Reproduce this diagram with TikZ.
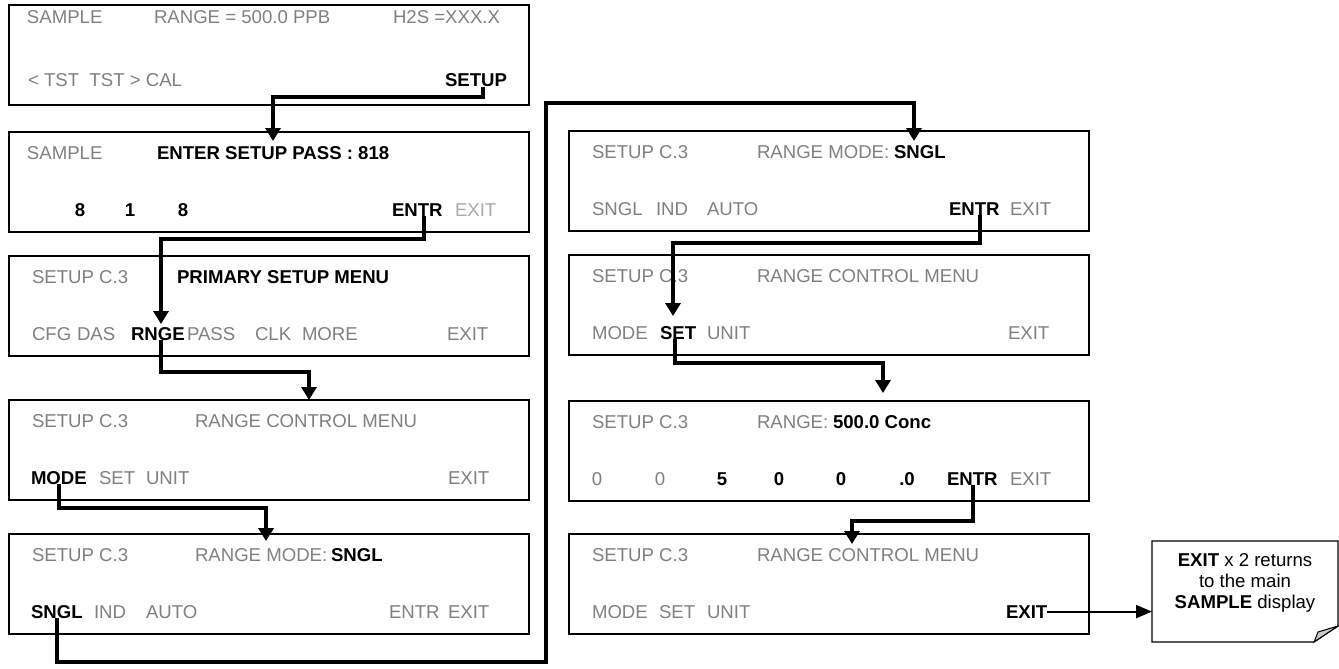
\documentclass[tikz,border=0pt]{standalone}
\usepackage{fontspec}
\setmainfont{Liberation Sans}
\usetikzlibrary{arrows.meta,calc}
\definecolor{tg}{HTML}{808080}
\definecolor{tl}{HTML}{ABABAB}
\definecolor{foldc}{HTML}{C8C8C8}
\newcommand\fsz{\fontsize{18.6}{21}\selectfont}
\begin{document}
\begin{tikzpicture}[x=1pt,y=-1pt,
  box/.style={draw, line width=1.3pt, minimum width=520pt, minimum height=100pt, anchor=north west, inner sep=0pt, outer sep=0pt},
  t/.style={anchor=base west, inner sep=0pt, outer sep=0pt, font=\fsz, text=tg},
  tlt/.style={t, text=tl},
  b/.style={t, text=black, font=\fsz\bfseries},
  tc/.style={anchor=base, inner sep=0pt, font=\fsz, text=tg},
  bc/.style={anchor=base, inner sep=0pt, font=\fsz\bfseries, text=black},
  conn/.style={line width=3.6pt, -{Triangle[length=13pt,width=15pt]}},
  conn2/.style={line width=2.2pt, -{Triangle[length=16pt,width=13pt]}},
]
\useasboundingbox (0,0) rectangle (1339,669);

% boxes
\node[box] (L1) at (9,5) {};
\node[box] (L2) at (9,132) {};
\node[box] (L3) at (9,256) {};
\node[box] (L4) at (9,400) {};
\node[box] (L5) at (9,534) {};
\node[box] (R1) at (569,131) {};
\node[box] (R2) at (569,255) {};
\node[box] (R3) at (569,401) {};
\node[box] (R4) at (569,534) {};

% L1
\node[t] (l1a) at (27,24) {SAMPLE};
\node[t] (l1b) at (154,24) {RANGE = 500.0 PPB};
\node[t] (l1c) at (393,24) {H2S =XXX.X};
\node[t] (l1d) at (28,87) {< TST\ \ TST > CAL};
\node[b] (l1setup) at (445,87) {SETUP};

% L2
\node[t] (l2a) at (27,159) {SAMPLE};
\node[b] (l2b) at (157,159) {ENTER SETUP PASS : 818};
\node[bc] (l2c) at (80,216) {8};
\node[bc] (l2d) at (130,216) {1};
\node[bc] (l2e) at (183,216) {8};
\node[b] (l2entr) at (392,216) {ENTR};
\node[tlt] (l2exit) at (455,216) {EXIT};

% L3
\node[t] (l3a) at (32,283) {SETUP C.3};
\node[b] (l3b) at (177,283) {PRIMARY SETUP MENU};
\node[t] (l3c) at (32,340) {CFG};
\node[t] (l3d) at (77,340) {DAS};
\node[b] (l3rnge) at (131,340) {RNGE};
\node[t] (l3e) at (187,340) {PASS};
\node[t] (l3f) at (255,340) {CLK};
\node[t] (l3g) at (302,340) {MORE};
\node[t] (l3h) at (447,340) {EXIT};

% L4
\node[t] (l4a) at (32,427) {SETUP C.3};
\node[t] (l4b) at (195,427) {RANGE CONTROL MENU};
\node[b] (l4mode) at (31,484) {MODE};
\node[t] (l4c) at (99,484) {SET};
\node[t] (l4d) at (146,484) {UNIT};
\node[t] (l4e) at (448,484) {EXIT};

% L5
\node[t] (l5a) at (32,561) {SETUP C.3};
\node[t] (l5b) at (195,561) {RANGE MODE:};
\node[b] (l5c) at (331,561) {SNGL};
\node[b] (l5sngl) at (31,618) {SNGL};
\node[t] (l5d) at (94,618) {IND};
\node[t] (l5e) at (146,618) {AUTO};
\node[t] (l5f) at (389,618) {ENTR};
\node[t] (l5g) at (448,618) {EXIT};

% R1
\node[t] (r1a) at (592,158) {SETUP C.3};
\node[t] (r1b) at (757,158) {RANGE MODE:};
\node[b] (r1c) at (894,158) {SNGL};
\node[t] (r1d) at (592,215) {SNGL};
\node[t] (r1e) at (656,215) {IND};
\node[t] (r1f) at (707,215) {AUTO};
\node[b] (r1entr) at (949,215) {ENTR};
\node[t] (r1g) at (1010,215) {EXIT};

% R2
\node[t] (r2a) at (592,282) {SETUP C.3};
\node[t] (r2b) at (757,282) {RANGE CONTROL MENU};
\node[t] (r2c) at (592,339) {MODE};
\node[b] (r2set) at (660,339) {SET};
\node[t] (r2d) at (707,339) {UNIT};
\node[t] (r2e) at (1008,339) {EXIT};

% R3
\node[t] (r3a) at (592,428) {SETUP C.3};
\node[t] (r3b) at (757,428) {RANGE:};
\node[b] (r3c) at (833,428) {500.0 Conc};
\node[tc] (r3d) at (597,485) {0};
\node[tc] (r3e) at (660,485) {0};
\node[bc] (r3f) at (722,485) {5};
\node[bc] (r3g) at (779,485) {0};
\node[bc] (r3h) at (841,485) {0};
\node[bc] (r3i) at (907,485) {.0};
\node[b] (r3entr) at (947,485) {ENTR};
\node[t] (r3j) at (1010,485) {EXIT};

% R4
\node[t] (r4a) at (592,561) {SETUP C.3};
\node[t] (r4b) at (757,561) {RANGE CONTROL MENU};
\node[t] (r4c) at (592,618) {MODE};
\node[t] (r4d) at (659,618) {SET};
\node[t] (r4e) at (707,618) {UNIT};
\node[b] (r4exit) at (1006,618) {EXIT};

% note
\node[minimum width=186pt, minimum height=101pt, inner sep=0pt, outer sep=0pt] (note) at (1245,591.5) {};
\node[align=center, font=\fsz, text=black, inner sep=0pt] (notetxt) at (1245,583) {\textbf{EXIT} x 2 returns\\to the main\\\textbf{SAMPLE} display};
\draw[line width=1.3pt, line join=miter] (note.north west) -- (note.north east) -- ($(note.south east)+(0,-16)$) -- ($(note.south east)+(-24,0)$) -- (note.south west) -- cycle;
\filldraw[fill=foldc, line width=1pt] ($(note.south east)+(0,-16)$) -- ($(note.south east)+(-20,-10)$) -- ($(note.south east)+(-24,0)$) -- cycle;

% connector coordinates
\coordinate (k1) at (273,97);   \coordinate (t1) at (273,141);
\coordinate (k2) at (161,239);  \coordinate (t2) at (161,324);
\coordinate (k3) at (309,372);  \coordinate (t3) at (309,400);
\coordinate (k4) at (266,508);  \coordinate (t4) at (266,541);
\coordinate (k5a) at (546,662); \coordinate (k5b) at (546,103); \coordinate (t5) at (914,141);
\coordinate (k6) at (673,243);  \coordinate (t6) at (673,316);
\coordinate (k7) at (883,363);  \coordinate (t7) at (883,393);
\coordinate (k8) at (852,521);  \coordinate (t8) at (852,544);

% connectors
\draw[conn] ($(l1setup.base west)+(38,0)$) |- (k1) -- (t1);
\draw[conn] ($(l2entr.base west)+(32,0)$) |- (k2) -- (t2);
\draw[conn] ($(l3rnge.base west)+(30,0)$) |- (k3) -- (t3);
\draw[conn] ($(l4mode.base west)+(28,0)$) |- (k4) -- (t4);
\draw[conn] ($(l5sngl.base west)+(26,0)$) |- (k5a) -- (k5b) -| (t5);
\draw[conn] ($(r1entr.base west)+(31,0)$) |- (k6) -- (t6);
\draw[conn] ($(r2set.base west)+(15,0)$) |- (k7) -- (t7);
\draw[conn] ($(r3entr.base west)+(26,0)$) |- (k8) -- (t8);
\draw[conn2] (r4exit.east) -- (r4exit.east -| note.west);
\end{tikzpicture}
\end{document}
